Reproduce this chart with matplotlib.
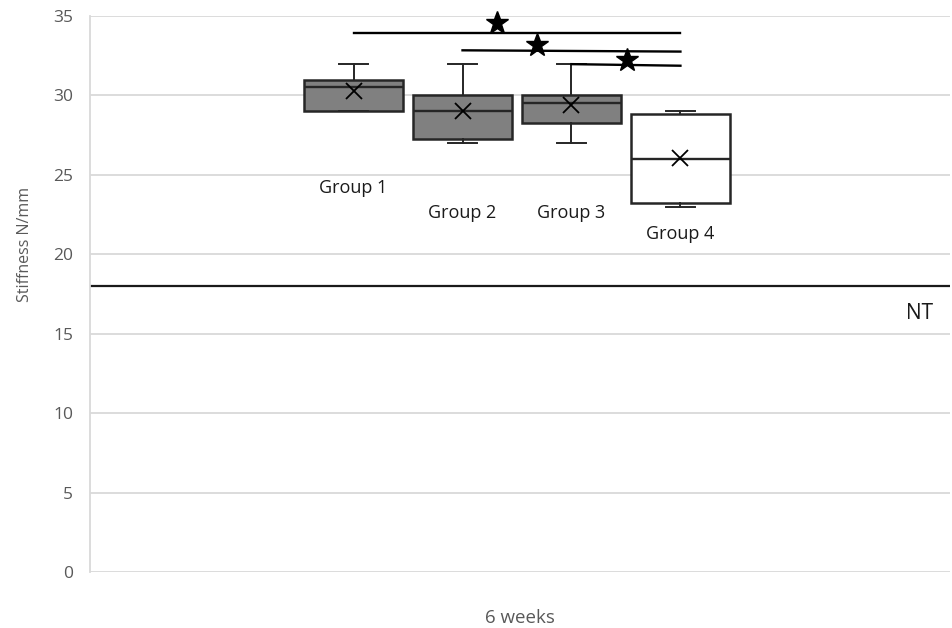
import matplotlib
matplotlib.use("Agg")
import matplotlib.pyplot as plt

plt.rcParams['font.family'] = ['Open Sans', 'DejaVu Sans']

# Box statistics per group (Stiffness N/mm)
groups = ["Group 1", "Group 2", "Group 3", "Group 4"]
whisker_low = [29.0, 27.0, 27.0, 23.0]
q1 = [29.0, 27.25, 28.25, 23.25]
median = [30.5, 29.0, 29.5, 26.0]
q3 = [31.0, 30.0, 30.0, 28.8]
whisker_high = [32.0, 32.0, 32.0, 29.0]
mean = [30.25, 29.0, 29.4, 26.05]
box_colors = ["#808080", "#808080", "#808080", "#ffffff"]

# Native-tissue reference level
nt_level = 18.0

# Significance brackets: (from group, to group), level at each end, star level
sig_pairs = [(0, 3), (1, 3), (2, 3)]
sig_left = [33.92, 32.84, 31.97]
sig_right = [33.92, 32.76, 31.87]
sig_star = [34.55, 33.15, 32.2]

y_ticks = [0, 5, 10, 15, 20, 25, 30, 35]

fig = plt.figure(figsize=(9.53, 6.28), dpi=100)
ax = fig.add_axes([90 / 953, 56 / 628, 860 / 953, 556 / 628])

center, step = 0.4965, 0.1267
positions = [center + (i - 1.5) * step for i in range(len(groups))]
box_w = 0.116

stats = []
for i, g in enumerate(groups):
    stats.append(dict(label=g, whislo=whisker_low[i], q1=q1[i], med=median[i],
                      q3=q3[i], whishi=whisker_high[i], mean=mean[i], fliers=[]))

edge = "#262626"
bp = ax.bxp(stats, positions=positions, widths=box_w, patch_artist=True,
            showmeans=True, showfliers=False, zorder=3,
            boxprops=dict(edgecolor=edge, linewidth=1.8),
            medianprops=dict(color=edge, linewidth=1.7),
            whiskerprops=dict(color=edge, linewidth=1.4),
            capprops=dict(color=edge, linewidth=1.4),
            meanprops=dict(marker="x", markeredgecolor="black", markersize=11,
                           markeredgewidth=1.3),
            capwidths=0.034)
for patch, c in zip(bp["boxes"], box_colors):
    patch.set_facecolor(c)

# Group labels beneath each box
label_y = [24.2, 22.6, 22.6, 21.3]
for pos, g, ly in zip(positions, groups, label_y):
    ax.text(pos, ly, g, ha="center", va="center", fontsize=13, color="#1a1a1a")

# NT reference line
ax.axhline(nt_level, color="#1a1a1a", linewidth=1.6, zorder=2)
ax.text(0.965, nt_level - 1.7, "NT", ha="center", va="center",
        fontsize=15, color="#1a1a1a")

# Significance brackets with stars
star_frac = [0.44, 0.34, 0.51]
for (a, b), yl, yr, ys, f in zip(sig_pairs, sig_left, sig_right, sig_star, star_frac):
    x0, x1 = positions[a], positions[b]
    ax.plot([x0, x1], [yl, yr], color="black", linewidth=1.7, zorder=4)
    ax.plot([x0 + f * (x1 - x0)], [ys], marker="*", color="black",
            markersize=17, linestyle="none", zorder=5, clip_on=False)

ax.set_xlim(0, 1)
ax.set_ylim(0, 35)
ax.set_yticks(y_ticks)
ax.set_xticks([])
ax.yaxis.grid(True, color="#d9d9d9", linewidth=1.3, zorder=0)
ax.set_axisbelow(True)
for s in ["top", "right", "bottom"]:
    ax.spines[s].set_visible(False)
ax.spines["left"].set_color("#d9d9d9")
ax.spines["left"].set_linewidth(1.3)
ax.tick_params(axis="y", length=0, pad=12, labelsize=12.5, labelcolor="#595959")

fig.text(25 / 953, 1 - 244 / 628, "Stiffness N/mm", rotation=90, ha="center",
         va="center", fontsize=11.5, color="#595959")
fig.text(520 / 953, 1 - 618 / 628, "6 weeks", ha="center", va="center",
         fontsize=13.5, color="#595959")

fig.savefig("out.png", dpi=100)
